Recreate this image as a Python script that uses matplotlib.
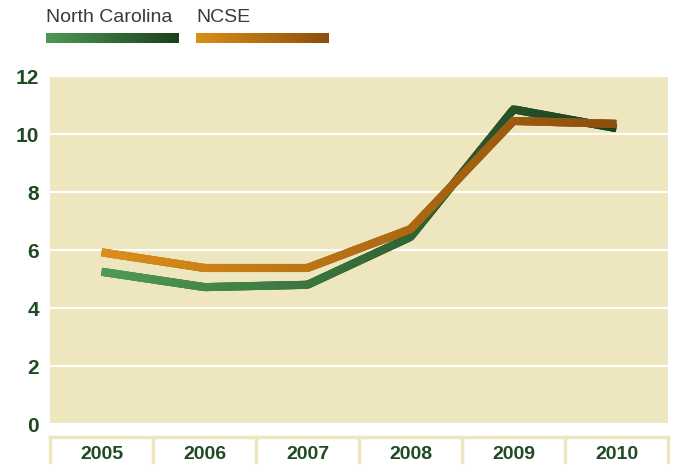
import numpy as np
import matplotlib
matplotlib.use("Agg")
import matplotlib.pyplot as plt
from matplotlib.collections import LineCollection
from matplotlib.colors import LinearSegmentedColormap
import matplotlib.transforms as mtransforms

years = ["2005", "2006", "2007", "2008", "2009", "2010"]
north_carolina = [5.25, 4.72, 4.8, 6.45, 10.85, 10.2]
ncse = [5.92, 5.38, 5.38, 6.72, 10.45, 10.35]
series_names = ["North Carolina", "NCSE"]

bg = "#EEE6BE"
label_green = "#1F4A22"
cmaps = [
    LinearSegmentedColormap.from_list("nc", ["#4E9A55", "#1C3F1C"]),
    LinearSegmentedColormap.from_list("ncse", ["#DB8E18", "#8C4E0E"]),
]

plt.rcParams['font.family'] = ['Liberation Sans Narrow', 'Liberation Sans', 'DejaVu Sans']

fig = plt.figure(figsize=(6.75, 4.68), dpi=100)
ax = fig.add_axes([50 / 675, 1 - 424 / 468, 618 / 675, 348 / 468])
ax.set_facecolor(bg)
for s in ax.spines.values():
    s.set_visible(False)

x = np.arange(len(years))
ax.set_xlim(-0.5, 5.5)
ax.set_ylim(0, 12)
ax.set_yticks(range(0, 13, 2))
ax.yaxis.grid(True, color="white", linewidth=1.5)
ax.set_axisbelow(True)
ax.tick_params(axis="y", length=0, pad=8, labelsize=15, labelcolor=label_green)
for t in ax.get_yticklabels():
    t.set_fontweight("bold")
ax.set_xticks(x)
ax.set_xticklabels(years, fontsize=14, fontweight="bold", color=label_green)
ax.tick_params(axis="x", length=0, pad=16)


def gradient_line(ax, xs, ys, cmap, lw):
    # solid base so the corners stay closed, gradient pieces on top
    ax.plot(xs, ys, color=cmap(0.5), lw=lw, solid_capstyle="butt", solid_joinstyle="miter")
    fine_x = np.linspace(xs[0], xs[-1], 400)
    fine_y = np.interp(fine_x, xs, ys)
    pts = np.column_stack([fine_x, fine_y])
    # each piece overlaps the next one so no seams show
    segs = np.stack([pts[:-2], pts[2:]], axis=1)
    lc = LineCollection(segs, cmap=cmap, linewidths=lw, capstyle="butt")
    lc.set_array(np.linspace(0, 1, len(segs)))
    ax.add_collection(lc)


gradient_line(ax, x, north_carolina, cmaps[0], 5.8)
gradient_line(ax, x, ncse, cmaps[1], 5.8)

# category boxes under the axis
trans = mtransforms.blended_transform_factory(ax.transData, ax.transAxes)
ax.plot([-0.5, 5.5], [-0.037, -0.037], color=bg, lw=2.5, transform=trans, clip_on=False)
for b in np.arange(-0.5, 6, 1):
    ax.plot([b, b], [-0.037, -0.11], color=bg, lw=2.5, transform=trans, clip_on=False)

# legend with gradient swatches
grad = np.linspace(0, 1, 256).reshape(1, -1)
legend_x = [46, 196]
for name, cmap, lx in zip(series_names, cmaps, legend_x):
    fig.text(lx / 675, 1 - 17 / 468, name, fontsize=14, color="#3a3a3a",
             family=['Liberation Sans', 'DejaVu Sans'], va="center", ha="left")
    sw = fig.add_axes([lx / 675, 1 - 43 / 468, 133 / 675, 10 / 468])
    sw.imshow(grad, aspect="auto", cmap=cmap)
    sw.axis("off")

fig.savefig("out.png", dpi=100)
